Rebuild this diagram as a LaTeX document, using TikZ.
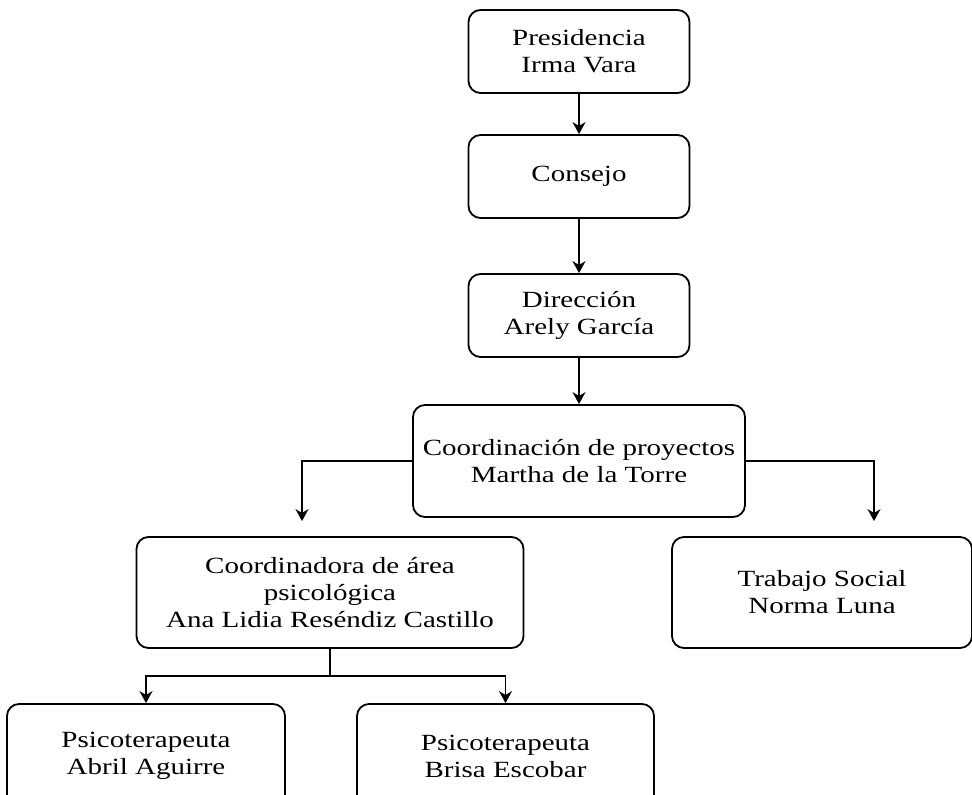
\documentclass[tikz,border=0pt]{standalone}
\usepackage{fontspec}
\setmainfont{Liberation Serif}[FakeStretch=1.25]
\usetikzlibrary{arrows.meta,positioning}
\tikzstyle{unit}=[draw, rounded corners=6pt, line width=0.9pt, align=center,
  inner sep=2pt, font=\fontsize{11.6}{13.5}\selectfont]
\tikzstyle{link}=[->, line width=0.9pt]

\begin{document}
\begin{tikzpicture}[>={Stealth[length=6pt,width=6.5pt]}, on grid]
  \useasboundingbox (-289.5pt,25.75pt) rectangle (196.5pt,-371.75pt);

  \node[unit, minimum width=110.5pt, minimum height=41.5pt] (pres) {Presidencia\\Irma Vara};
  \node[unit, minimum width=110.5pt, minimum height=41.5pt, below=62.5pt of pres] (consejo) {Consejo};
  \node[unit, minimum width=110.5pt, minimum height=41.5pt, below=69.5pt of consejo] (direc) {Dirección\\Arely García};
  \node[unit, minimum width=166pt, minimum height=56pt, below=72.75pt of direc] (coord) {Coordinación de proyectos\\Martha de la Torre};
  \node[unit, minimum width=193.5pt, minimum height=55.5pt, below left=65.75pt and 124.5pt of coord] (area)
    {Coordinadora de área\\psicológica\\Ana Lidia Reséndiz Castillo};
  \node[unit, minimum width=150pt, minimum height=55.5pt, below right=65.75pt and 121.5pt of coord] (social)
    {Trabajo Social\\Norma Luna};
  \node[unit, minimum width=139pt, minimum height=52pt, below left=81.75pt and 92pt of area] (abril)
    {Psicoterapeuta\\Abril Aguirre};
  \node[unit, minimum width=148.5pt, minimum height=52pt, below right=81.75pt and 87.75pt of area] (brisa)
    {Psicoterapeuta\\Brisa Escobar};

  \coordinate[above=7.5pt of area.north, xshift=-14pt] (tipL);
  \coordinate[above=7.5pt of social.north, xshift=26pt] (tipR);
  \coordinate[below=13.5pt of area.south] (split);

  \draw[link] (pres) -- (consejo);
  \draw[link] (consejo) -- (direc);
  \draw[link] (direc) -- (coord);
  \draw[link] (coord.west) -| (tipL);
  \draw[link] (coord.east) -| (tipR);
  \draw[line width=0.9pt] (area) -- (split);
  \draw[link] (split) -| (abril.north);
  \draw[link] (split) -| (brisa.north);
\end{tikzpicture}
\end{document}
